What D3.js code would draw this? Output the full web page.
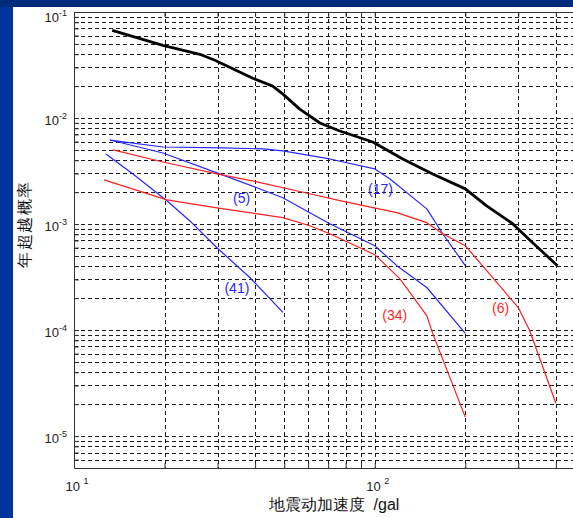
<!DOCTYPE html>
<html>
<head>
<meta charset="utf-8">
<script src="https://cdn.jsdelivr.net/npm/d3@7"></script>
<style>
  body { margin: 0; background: #fff; }
  text { font-family: "Liberation Sans", Arial, sans-serif; }
</style>
</head>
<body>
<svg width="573" height="518"></svg>
<script>
// acceleration (gal) / annual exceedance probability
var totalAccel = [13.4, 19.75, 26.2, 29.4, 39.3, 45.8, 49.5, 56.3, 65.7, 76.5, 98.5, 123.9, 155.8, 200, 235.5, 287.4, 334.9, 405];
var totalProb = [0.0671, 0.0485, 0.0399, 0.0351, 0.02375, 0.01998, 0.0168, 0.01214, 0.00897, 0.00754, 0.00594, 0.00411, 0.00297, 0.002147, 0.001486, 0.001006, 0.000667, 0.000405];

var accel17 = [13.17, 19.75, 31.26, 42.46, 49.48, 70.87, 100, 112.1, 148.9, 168.2, 200];
var prob17 = [0.0062, 0.00533, 0.00522, 0.00511, 0.00489, 0.00411, 0.00331, 0.00267, 0.00139, 0.00081, 0.000405];

var accel5 = [13.17, 19.75, 29.87, 40.55, 49.48, 60.81, 70.87, 100, 118.4, 148.9, 200];
var prob5 = [0.0062, 0.00468, 0.00304, 0.0022, 0.00177, 0.00128, 0.001006, 0.000625, 0.000405, 0.000252, 0.000093];

var accel41 = [12.77, 15.7, 20.37, 24.29, 29.87, 38.43, 49.48];
var prob41 = [0.00458, 0.00297, 0.00166, 0.00107, 0.000598, 0.000313, 0.000147];

var accel6 = [13.48, 19.75, 29.87, 40.55, 60.81, 76.5, 118.4, 148.9, 168.2, 200, 300, 327.3, 400];
var prob6 = [0.005, 0.00385, 0.00297, 0.0025, 0.00193, 0.00166, 0.00128, 0.00103, 0.00081, 0.000625, 0.000163, 0.0000992, 0.0000204];

var accel34 = [12.58, 20.37, 29.87, 49.48, 60.81, 70.87, 100, 121.1, 148.9, 155.8, 200];
var prob34 = [0.00261, 0.00169, 0.00142, 0.00115, 0.000964, 0.000811, 0.000514, 0.000306, 0.000137, 0.000093, 0.0000151];

var labelText = ["(5)", "(41)", "(17)", "(34)", "(6)"];
var labelAccel = [36.1, 34.8, 104.5, 116.5, 262];
var labelProb = [0.00177, 0.000252, 0.00215, 0.00014, 0.00016];

var xTickExp = [1, 2];
var yTickExp = [-1, -2, -3, -4, -5];

var blue = "#2626ff";
var red = "#ff1f1f";

const svg = d3.select("svg");

// frame of the slide
svg.append("rect").attr("x", 0).attr("y", 0).attr("width", 573).attr("height", 518).attr("fill", "#fff");
svg.append("rect").attr("x", 0).attr("y", 0).attr("width", 13).attr("height", 518).attr("fill", "#00339c");
svg.append("rect").attr("x", 0).attr("y", 0).attr("width", 573).attr("height", 7).attr("fill", "#002a7c");

var plotLeft = 74, plotTop = 12, plotBottom = 468;

var x = d3.scaleLog().domain([10, 500]).range([plotLeft, 585]);
var y = d3.scaleLog().domain([5e-6, 0.1]).range([plotBottom, plotTop]);

var xMinor = [];
[10, 100].forEach((d) => {
  for (let k = 1; k < 10; k++) if (d * k <= 500) xMinor.push(d * k);
});
var yMinor = [];
[1e-6, 1e-5, 1e-4, 1e-3, 1e-2].forEach((d) => {
  for (let k = 1; k < 10; k++) if (d * k >= 5e-6 && d * k <= 0.1) yMinor.push(d * k);
});
yMinor.push(0.1);

var px = (v) => Math.round(v) + 0.5;

var grid = svg.append("g").attr("id", "grid");

grid
  .selectAll("line.h")
  .data(yMinor)
  .enter()
  .append("line")
  .attr("class", "h")
  .attr("x1", plotLeft)
  .attr("x2", 585)
  .attr("y1", (d) => px(y(d)))
  .attr("y2", (d) => px(y(d)))
  .attr("stroke", "#1a1a1a")
  .attr("stroke-dasharray", "4,3");

grid
  .selectAll("line.v")
  .data(xMinor)
  .enter()
  .append("line")
  .attr("class", "v")
  .attr("x1", (d) => px(x(d)))
  .attr("x2", (d) => px(x(d)))
  .attr("y1", plotTop)
  .attr("y2", plotBottom)
  .attr("stroke", "#1a1a1a")
  .attr("stroke-dasharray", "4,3");

// axes with inward ticks
svg.append("g")
  .attr("transform", `translate(0,${plotBottom})`)
  .call(d3.axisBottom(x).tickValues(xMinor).tickSize(-5).tickSizeOuter(0).tickFormat(""))
  .call((g) => g.selectAll("path,line").attr("stroke", "#333"));

svg.append("g")
  .attr("transform", `translate(0,${plotTop})`)
  .call(d3.axisTop(x).tickValues(xMinor).tickSize(-5).tickSizeOuter(0).tickFormat(""))
  .call((g) => g.selectAll("path,line").attr("stroke", "#333"));

svg.append("g")
  .attr("transform", `translate(${plotLeft},0)`)
  .call(d3.axisLeft(y).tickValues(yMinor).tickSize(-5).tickSizeOuter(0).tickFormat(""))
  .call((g) => g.selectAll("path,line").attr("stroke", "#333"));

// tick labels as 10^n
var yLab = svg.append("g").selectAll("text").data(yTickExp).enter().append("text")
  .attr("x", 67)
  .attr("y", (d) => Math.max(y(Math.pow(10, d)), 15) + 7)
  .attr("text-anchor", "end")
  .attr("font-size", 13)
  .attr("fill", "#222");
yLab.append("tspan").text("10");
yLab.append("tspan").attr("dy", -6).attr("font-size", 9).text((d) => "-" + Math.abs(d));

var xLab = svg.append("g").selectAll("text").data(xTickExp).enter().append("text")
  .attr("x", (d) => x(Math.pow(10, d)) + 3)
  .attr("y", 491)
  .attr("text-anchor", "middle")
  .attr("font-size", 13)
  .attr("fill", "#222");
xLab.append("tspan").text("10 ");
xLab.append("tspan").attr("dy", -7).attr("font-size", 9).text((d) => d);

// curves
var series = [
  { a: accel17, p: prob17, color: blue, w: 1.2 },
  { a: accel5, p: prob5, color: blue, w: 1.2 },
  { a: accel41, p: prob41, color: blue, w: 1.2 },
  { a: accel6, p: prob6, color: red, w: 1.2 },
  { a: accel34, p: prob34, color: red, w: 1.2 },
  { a: totalAccel, p: totalProb, color: "#000", w: 2.8 },
];

var line = d3.line().x((d) => x(d[0])).y((d) => y(d[1]));

svg.append("g")
  .selectAll("path")
  .data(series)
  .enter()
  .append("path")
  .attr("d", (s) => line(s.a.map((v, i) => [v, s.p[i]])))
  .attr("fill", "none")
  .attr("stroke", (s) => s.color)
  .attr("stroke-width", (s) => s.w)
  .attr("stroke-linejoin", "round");

var labelColor = [blue, blue, blue, red, red];
svg.append("g")
  .selectAll("text")
  .data(labelText)
  .enter()
  .append("text")
  .attr("x", (d, i) => x(labelAccel[i]))
  .attr("y", (d, i) => y(labelProb[i]) + 5)
  .attr("text-anchor", "middle")
  .attr("font-size", 14)
  .attr("fill", (d, i) => labelColor[i])
  .text((d) => d);

// axis titles
svg.append("text")
  .attr("x", 334)
  .attr("y", 510)
  .attr("text-anchor", "middle")
  .attr("font-family", "'Noto Sans CJK SC', sans-serif")
  .attr("font-size", 16)
  .attr("fill", "#111")
  .attr("xml:space", "preserve")
  .text("地震动加速度  /gal");

svg.append("text")
  .attr("transform", "translate(30,224) rotate(-90)")
  .attr("text-anchor", "middle")
  .attr("font-family", "'Noto Sans CJK SC', sans-serif")
  .attr("font-size", 16)
  .attr("letter-spacing", 1.5)
  .attr("fill", "#111")
  .text("年超越概率");
</script>
</body>
</html>
